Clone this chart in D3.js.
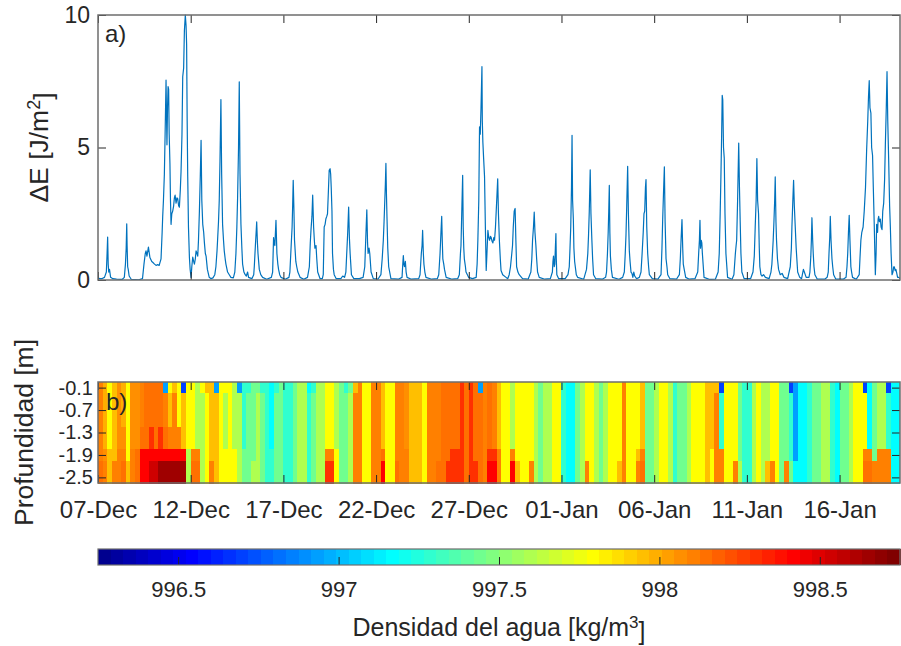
<!DOCTYPE html>
<html>
<head>
<meta charset="utf-8">
<script src="https://cdn.jsdelivr.net/npm/d3@7"></script>
<style>
  body { margin: 0; background: #fff; }
  text { font-family: "Liberation Sans", Arial, Helvetica, sans-serif; fill: #262626; }
</style>
</head>
<body>
<div id="chart"></div>
<script>
// ---- data (days counted from 07-Dec 00:00) ----
const tickDays = [0, 5, 10, 15, 20, 25, 30, 35, 40];
const tickLabels = ["07-Dec", "12-Dec", "17-Dec", "22-Dec", "27-Dec", "01-Jan", "06-Jan", "11-Jan", "16-Jan"];
const energyTicks = [0, 5, 10];
const depthTicks = [-0.1, -0.7, -1.3, -1.9, -2.5];
const densTicks = [996.5, 997, 997.5, 998, 998.5];

// ΔE [J/m2]: [day, value]
const energia = [
  [0,0.15],[0.05,0.05],[0.2,0.05],[0.35,0.1],[0.45,0.3],[0.49,1.0],[0.52,1.62],[0.55,0.6],[0.58,0.3],[0.62,0.4],[0.68,0.1],[0.8,0.05],[1.0,0.03],
  [1.3,0.02],[1.42,0.1],[1.48,0.6],[1.52,1.2],[1.55,2.12],[1.57,1.3],[1.6,0.5],[1.63,0.4],[1.68,0.15],[1.8,0.02],[2.2,0.01],
  [2.4,0.05],[2.48,0.6],[2.55,1.0],[2.59,1.1],[2.64,0.9],[2.72,1.24],[2.8,0.85],[2.9,0.7],[2.95,0.67],[3.05,0.6],[3.13,0.55],[3.22,0.58],[3.3,0.55],
  [3.4,0.8],[3.46,1.8],[3.49,2.4],[3.53,3.0],[3.58,4.0],[3.62,5.5],[3.67,7.54],[3.7,6.0],[3.72,5.1],[3.75,6.5],[3.78,7.3],[3.81,7.2],[3.84,5.5],[3.88,4.4],[3.91,3.0],[3.94,2.1],
  [3.98,2.5],[4.03,2.6],[4.08,2.8],[4.12,3.1],[4.16,3.2],[4.21,2.9],[4.26,3.1],[4.3,3.07],[4.35,2.8],[4.39,2.75],[4.44,3.4],[4.48,4.1],[4.53,5.5],[4.57,7.67],[4.62,8.0],[4.66,9.4],[4.71,10],
  [4.75,9.6],[4.78,8.9],[4.81,6.0],[4.84,3.9],[4.88,2.0],[4.93,0.86],[4.97,0.4],[5.02,0.1],[5.06,0.5],[5.11,0.86],[5.16,0.7],[5.2,0.6],[5.25,0.8],[5.29,1.1],[5.34,1.0],[5.38,0.9],
  [5.42,1.5],[5.47,2.6],[5.52,4.0],[5.56,5.27],[5.6,3.0],[5.65,2.1],[5.7,1.8],[5.74,1.4],[5.79,1.0],[5.83,0.9],[5.9,0.4],[6.0,0.1],[6.1,0.05],[6.2,0.08],
  [6.3,0.2],[6.36,0.5],[6.42,1.1],[6.45,1.5],[6.5,2.2],[6.54,3.0],[6.58,4.5],[6.63,6.81],[6.67,4.0],[6.72,2.1],[6.77,1.5],[6.81,1.1],[6.86,0.8],[6.9,0.6],[6.99,0.3],[7.08,0.2],[7.17,0.1],
  [7.3,0.08],[7.38,0.3],[7.44,1.0],[7.49,2.0],[7.53,3.1],[7.58,5.0],[7.62,7.48],[7.66,4.0],[7.71,2.1],[7.76,1.2],[7.8,0.6],[7.87,0.3],[7.94,0.2],[8.0,0.15],[8.07,0.3],[8.12,0.1],
  [8.3,0.05],[8.4,0.2],[8.43,0.5],[8.49,1.3],[8.53,1.8],[8.56,2.19],[8.6,1.4],[8.63,1.0],[8.7,0.4],[8.78,0.2],[8.88,0.1],[9.1,0.03],
  [9.35,0.1],[9.42,0.3],[9.47,1.6],[9.5,1.4],[9.54,1.3],[9.6,2.25],[9.65,1.0],[9.7,0.6],[9.74,0.4],[9.8,0.2],[9.87,0.1],[10.1,0.03],
  [10.3,0.1],[10.35,0.3],[10.42,1.3],[10.47,2.0],[10.5,2.8],[10.53,3.76],[10.57,2.6],[10.6,1.5],[10.67,0.7],[10.72,0.5],[10.78,0.3],[10.9,0.1],[11.1,0.03],
  [11.3,0.1],[11.4,0.5],[11.45,1.4],[11.49,1.9],[11.54,2.4],[11.58,3.2],[11.63,2.0],[11.67,1.5],[11.7,1.2],[11.76,1.3],[11.8,0.8],[11.85,0.3],[11.98,0.05],
  [12.1,0.05],[12.15,0.2],[12.2,2.0],[12.25,2.1],[12.29,2.3],[12.34,2.4],[12.38,2.5],[12.43,3.4],[12.47,4.14],[12.52,4.2],[12.55,4.0],[12.58,3.5],[12.62,2.6],[12.65,1.0],[12.7,0.4],[12.74,0.2],[12.85,0.05],
  [13.1,0.05],[13.2,0.15],[13.3,0.1],[13.37,0.3],[13.43,1.2],[13.47,1.8],[13.52,2.75],[13.56,1.6],[13.6,1.0],[13.67,0.2],[13.8,0.05],
  [14.1,0.05],[14.3,0.1],[14.39,0.5],[14.44,1.5],[14.5,2.65],[14.54,1.4],[14.57,1.0],[14.62,1.2],[14.66,1.0],[14.73,0.3],[14.85,0.05],
  [15.1,0.03],[15.26,0.2],[15.33,0.8],[15.39,1.5],[15.43,2.2],[15.46,2.8],[15.5,3.6],[15.53,4.4],[15.56,3.2],[15.59,2.3],[15.63,1.2],[15.68,0.5],[15.8,0.05],
  [16.2,0.03],[16.4,0.1],[16.44,0.6],[16.47,0.92],[16.5,0.6],[16.53,0.5],[16.58,0.7],[16.62,0.3],[16.67,0.1],[16.9,0.03],
  [17.3,0.05],[17.37,0.2],[17.44,1.0],[17.48,1.3],[17.51,1.87],[17.55,1.0],[17.58,0.6],[17.63,0.3],[17.69,0.1],[18.0,0.03],
  [18.3,0.05],[18.38,0.2],[18.45,1.0],[18.5,1.8],[18.54,2.4],[18.57,1.5],[18.6,0.8],[18.65,0.6],[18.69,0.4],[18.78,0.1],[19.1,0.03],
  [19.4,0.05],[19.49,0.2],[19.55,1.0],[19.58,1.3],[19.62,2.5],[19.67,3.95],[19.7,2.0],[19.73,1.2],[19.76,0.8],[19.82,0.5],[19.85,0.3],[19.99,0.1],
  [20.2,0.05],[20.4,0.1],[20.45,0.6],[20.49,1.5],[20.54,3.0],[20.58,5.78],[20.62,5.5],[20.66,6.5],[20.71,8.05],[20.73,6.0],[20.76,5.2],[20.8,4.6],[20.85,3.9],[20.9,1.8],[20.94,0.36],
  [20.98,1.0],[21.03,1.87],[21.08,1.6],[21.12,1.5],[21.17,1.65],[21.21,1.6],[21.26,1.45],[21.3,1.4],[21.35,1.6],[21.39,1.5],[21.44,2.0],[21.48,2.6],[21.52,3.2],[21.56,3.82],[21.6,2.5],[21.65,1.5],[21.7,0.8],[21.74,0.36],[21.83,0.2],[22.01,0.1],
  [22.1,0.05],[22.18,0.2],[22.25,0.5],[22.32,1.0],[22.36,1.3],[22.4,2.0],[22.45,2.6],[22.5,2.7],[22.54,1.5],[22.58,0.5],[22.65,0.3],[22.72,0.2],[22.9,0.05],
  [23.2,0.03],[23.35,0.3],[23.4,0.8],[23.44,1.5],[23.49,2.0],[23.53,2.56],[23.57,1.8],[23.62,1.3],[23.66,0.8],[23.71,0.3],[23.8,0.1],
  [24.1,0.03],[24.4,0.05],[24.51,0.3],[24.54,0.7],[24.57,0.9],[24.61,0.5],[24.64,0.6],[24.67,1.2],[24.7,1.75],[24.72,0.8],[24.75,0.2],[24.85,0.05],
  [25.2,0.05],[25.35,0.2],[25.42,0.5],[25.46,1.2],[25.5,2.0],[25.54,3.5],[25.57,5.46],[25.6,3.0],[25.64,2.3],[25.67,1.2],[25.71,0.7],[25.8,0.2],[25.87,0.1],
  [26.2,0.03],[26.35,0.4],[26.42,1.0],[26.46,1.7],[26.5,2.6],[26.55,4.16],[26.59,2.5],[26.64,1.5],[26.68,0.8],[26.73,0.2],[26.85,0.05],
  [27.2,0.03],[27.38,0.1],[27.43,0.3],[27.48,1.0],[27.52,1.8],[27.55,2.6],[27.58,3.57],[27.61,1.8],[27.64,0.9],[27.69,0.4],[27.75,0.1],
  [28.1,0.03],[28.3,0.1],[28.39,0.3],[28.44,1.0],[28.48,1.7],[28.52,2.8],[28.57,4.29],[28.61,2.5],[28.66,1.1],[28.7,0.7],[28.75,0.3],[28.8,0.25],[28.85,0.1],[28.9,0.3],[28.95,0.15],[29.05,0.05],
  [29.2,0.1],[29.29,0.3],[29.35,1.0],[29.41,1.8],[29.45,2.5],[29.49,2.6],[29.53,3.5],[29.56,3.79],[29.6,2.0],[29.65,1.0],[29.7,0.5],[29.74,0.2],[29.9,0.05],
  [30.2,0.03],[30.37,0.2],[30.42,1.2],[30.46,2.3],[30.5,3.2],[30.55,4.27],[30.59,2.2],[30.64,0.8],[30.69,0.5],[30.73,0.2],[30.85,0.05],
  [31.2,0.03],[31.36,0.2],[31.41,0.8],[31.45,1.5],[31.5,2.28],[31.54,1.2],[31.57,0.6],[31.62,0.4],[31.7,0.1],[31.9,0.03],
  [32.2,0.05],[32.35,0.3],[32.4,1.0],[32.44,1.5],[32.47,2.25],[32.5,1.2],[32.54,1.5],[32.57,1.4],[32.6,1.0],[32.69,0.1],[33.0,0.02],
  [33.3,0.03],[33.45,0.3],[33.51,1.0],[33.56,2.5],[33.6,3.9],[33.64,5.5],[33.67,6.97],[33.7,6.8],[33.74,5.0],[33.78,4.6],[33.82,2.5],[33.87,1.0],[33.96,0.1],
  [34.2,0.03],[34.3,0.2],[34.38,1.0],[34.42,1.3],[34.45,1.5],[34.5,3.0],[34.56,5.17],[34.6,3.5],[34.64,2.2],[34.68,1.0],[34.73,0.3],[34.85,0.05],
  [35.2,0.05],[35.33,0.3],[35.4,0.9],[35.45,2.0],[35.5,3.0],[35.54,4.58],[35.58,3.0],[35.63,2.5],[35.67,1.2],[35.7,0.5],[35.76,0.2],[35.82,0.15],[35.9,0.2],[36.0,0.1],
  [36.2,0.05],[36.3,0.3],[36.35,0.6],[36.42,1.5],[36.46,2.2],[36.5,3.0],[36.53,3.89],[36.57,2.2],[36.6,1.5],[36.65,0.8],[36.71,0.4],[36.8,0.2],[36.9,0.25],[37.0,0.1],
  [37.2,0.05],[37.34,0.5],[37.4,1.2],[37.43,2.0],[37.48,3.0],[37.52,3.76],[37.56,2.8],[37.61,2.0],[37.66,1.2],[37.74,0.3],[37.85,0.1],[37.95,0.05],[38.02,0.3],[38.05,0.4],[38.1,0.3],[38.2,0.1],
  [38.35,0.1],[38.4,0.3],[38.45,0.9],[38.48,1.5],[38.51,2.35],[38.55,1.5],[38.58,1.0],[38.62,0.5],[38.67,0.2],[38.8,0.03],
  [39.2,0.03],[39.33,0.1],[39.39,0.3],[39.43,1.0],[39.47,1.6],[39.5,2.4],[39.54,1.5],[39.59,0.8],[39.63,0.5],[39.68,0.2],[39.8,0.03],
  [40.2,0.03],[40.35,0.1],[40.4,0.5],[40.44,1.0],[40.48,1.8],[40.52,2.44],[40.56,1.5],[40.61,0.5],[40.65,0.3],[40.7,0.1],[40.9,0.03],
  [41.06,0.2],[41.1,0.8],[41.15,1.5],[41.2,1.8],[41.27,2.0],[41.33,2.6],[41.4,3.5],[41.46,4.9],[41.52,6.0],[41.56,6.9],[41.6,7.52],[41.64,6.5],[41.69,6.3],[41.73,5.0],[41.78,4.7],[41.82,3.5],[41.87,2.1],[41.93,0.2],
  [41.97,1.0],[42.0,2.1],[42.05,1.8],[42.08,2.3],[42.11,2.4],[42.15,2.2],[42.2,2.3],[42.24,2.0],[42.29,1.9],[42.33,2.6],[42.38,2.9],[42.43,3.8],[42.47,5.1],[42.52,6.5],[42.56,7.86],
  [42.6,6.0],[42.65,4.5],[42.7,2.8],[42.74,2.0],[42.78,1.0],[42.83,0.2],[42.88,0.3],[42.92,0.5],[42.95,0.5],[43.0,0.35],[43.04,0.4],[43.1,0.2],[43.13,0.1],[43.2,0.1],[43.26,0.05]
];

// density [kg/m3], one value per 6 h, from 07-Dec 00:00 (4 per day)
const depths = [-0.1, -0.4, -0.7, -1.0, -1.3, -1.6, -1.9, -2.2, -2.5];
const densTop = [
  998.1,998.0,997.8,997.95, 998.05,998.0,997.8,998.05, 998.05,998.1,998.15,998.15, 998.15,998.15,996.95,997.8,
  997.95,997.8,996.7,997.8, 997.8,997.6,997.8,997.95, 997.95,996.95,997.8,997.8, 997.8,997.6,996.95,997.3,
  997.3,997.45,997.45,997.3, 997.3,997.15,997.3,997.45, 997.3,997.3,997.45,997.6, 997.6,997.15,997.3,997.6,
  997.6,997.8,997.8,997.6, 997.45,997.3,997.45,997.95, 998.1,997.8,997.8,998.1, 998.1,997.95,997.8,997.8,
  998.1,998.1,998.05,997.95, 997.95,997.95,997.8,998.1, 998.1,998.1,998.15,998.15, 998.15,998.15,998.3,998.15,
  998.3,998.15,996.95,998.1, 998.15,998.1,997.95,997.8, 997.8,997.6,997.8,997.8, 997.8,997.8,997.6,997.45,
  997.6,997.6,997.8,997.8, 997.3,997.15,997.15,997.45, 997.6,997.8,997.8,997.6, 997.45,997.6,997.8,997.8,
  997.8,998.1,997.8,997.8, 997.8,997.95,997.45,997.45, 997.6,997.8,997.8,997.6, 997.3,997.45,997.45,997.6,
  997.8,997.8,997.8,997.95, 997.95,997.95,996.7,997.8, 997.8,997.8,997.45,997.3, 997.3,997.6,997.8,997.6,
  997.6,997.8,997.8,997.45, 997.45,996.7,996.95,997.15, 997.15,997.3,997.45,997.45, 997.6,997.6,997.3,997.15,
  997.45,997.45,997.6,997.8, 997.8,996.7,997.15,997.45, 997.6,997.6,996.7,997.15, 997.15
];
const densUpper = [
  998.1,998.0,997.8,997.95, 998.05,998.0,997.8,998.05, 998.05,998.1,998.15,998.15, 998.15,998.15,998.1,997.95,
  998.1,997.8,997.95,997.8, 997.8,997.6,997.6,997.8, 997.95,997.95,997.8,997.6, 997.8,997.6,997.6,997.3,
  997.45,997.45,997.6,997.45, 997.3,997.15,997.45,997.45, 997.3,997.3,997.45,997.6, 997.6,997.3,997.45,997.6,
  997.6,997.8,997.8,997.6, 997.45,997.45,997.6,998.1, 998.1,997.8,997.8,998.1, 998.1,997.95,997.8,997.8,
  998.1,998.1,998.05,997.95, 997.95,997.95,997.8,998.1, 998.1,998.1,998.15,998.15, 998.15,998.15,998.3,998.15,
  998.3,998.15,998.15,998.1, 998.15,998.1,997.95,997.8, 997.8,997.6,997.8,997.8, 997.8,997.8,997.6,997.45,
  997.6,997.6,997.8,997.8, 997.3,997.15,997.15,997.45, 997.6,997.8,997.8,997.6, 997.45,997.6,997.8,997.8,
  997.8,998.1,997.8,997.8, 997.8,997.95,997.45,997.45, 997.6,997.8,997.8,997.6, 997.3,997.45,997.45,997.6,
  997.8,997.8,997.8,997.95, 997.95,998.1,997.3,997.8, 997.8,997.8,997.45,997.3, 997.3,997.6,997.8,997.6,
  997.6,997.8,997.8,997.45, 997.45,997.3,996.95,997.15, 997.15,997.3,997.45,997.45, 997.6,997.6,997.3,997.15,
  997.45,997.45,997.6,997.8, 997.8,997.8,997.15,997.45, 997.6,997.6,997.3,997.15, 997.15
];
const densMid = [
  998.1,998.0,997.8,997.95, 998.05,998.05,997.8,998.05, 998.05,998.15,998.15,998.3, 998.15,998.3,998.15,998.1,
  998.1,998.1,997.95,997.8, 997.8,997.6,997.6,997.8, 997.95,997.95,997.8,997.6, 997.8,997.6,997.6,997.3,
  997.45,997.45,997.6,997.45, 997.3,997.15,997.45,997.45, 997.3,997.3,997.45,997.6, 997.6,997.3,997.45,997.6,
  997.6,997.8,997.8,997.6, 997.45,997.45,997.6,998.1, 998.1,997.8,997.8,998.1, 998.1,997.95,997.8,997.8,
  998.1,998.1,998.05,997.95, 997.95,997.95,997.8,998.1, 998.1,998.1,998.15,998.15, 998.15,998.15,998.3,998.15,
  998.3,998.15,998.15,998.1, 998.15,998.1,997.95,997.8, 997.8,997.6,997.8,997.8, 997.8,997.8,997.6,997.45,
  997.6,997.6,997.8,997.8, 997.3,997.15,997.15,997.45, 997.6,997.8,997.8,997.6, 997.45,997.6,997.8,997.8,
  997.8,998.1,997.8,997.8, 997.8,997.95,997.45,997.45, 997.6,997.8,997.8,997.6, 997.3,997.45,997.45,997.6,
  997.8,997.8,997.8,997.95, 997.95,998.1,997.3,997.8, 997.8,997.8,997.45,997.3, 997.3,997.6,997.8,997.6,
  997.6,997.8,997.8,997.45, 997.45,997.3,996.95,997.15, 997.15,997.3,997.45,997.45, 997.6,997.6,997.3,997.15,
  997.45,997.45,997.6,997.8, 997.8,997.8,997.15,997.45, 997.6,997.6,997.3,997.15, 997.15
];
const densLower = [
  998.1,998.05,997.95,997.95, 998.1,998.1,997.8,998.1, 998.15,998.4,998.4,998.4, 998.4,998.4,998.4,998.4,
  998.4,998.4,998.4,997.6, 998.1,998.1,997.6,997.8, 997.95,997.95,997.8,997.8, 997.8,997.8,997.6,997.45,
  997.45,997.45,997.6,997.45, 997.3,997.3,997.45,997.45, 997.3,997.3,997.45,997.6, 997.6,997.3,997.45,997.6,
  997.6,998.1,998.1,997.8, 997.45,997.45,997.6,998.1, 998.1,997.8,997.8,998.1, 998.1,998.15,997.8,997.8,
  998.1,998.1,998.1,997.95, 997.95,997.95,997.8,998.1, 998.1,998.1,998.15,998.15, 998.3,998.3,998.3,998.15,
  998.3,998.15,998.15,998.1, 998.3,998.3,998.1,997.8, 997.8,998.1,997.8,997.8, 997.8,997.8,997.6,997.45,
  997.6,997.6,997.8,997.8, 997.3,997.15,997.15,997.45, 997.6,997.8,997.8,997.6, 997.45,997.6,997.8,997.8,
  997.8,998.1,997.8,997.8, 997.95,998.1,997.45,997.45, 997.6,997.8,997.8,997.6, 997.3,997.45,997.45,997.6,
  997.8,997.8,997.8,997.95, 997.8,998.1,998.1,997.8, 997.8,997.8,997.45,997.3, 997.3,997.6,997.8,997.6,
  997.6,997.8,997.8,997.45, 997.45,997.3,996.95,997.15, 997.15,997.3,997.45,997.45, 997.6,997.6,997.3,997.15,
  997.45,997.45,997.6,997.8, 997.8,998.1,998.1,997.45, 998.1,998.1,998.1,997.15, 997.15
];
const densBottom = [
  998.15,998.1,997.95,998.1, 998.1,998.15,997.95,998.1, 998.15,998.4,998.4,998.55, 998.55,998.65,998.65,998.65,
  998.65,998.65,998.65,997.6, 998.15,998.15,997.6,997.8, 998.1,997.95,997.8,997.8, 997.8,997.8,997.6,997.45,
  997.45,997.6,997.6,997.45, 997.3,997.3,997.45,997.45, 997.3,997.3,997.45,997.6, 997.6,997.3,997.45,997.6,
  997.6,998.3,998.3,997.8, 997.45,997.45,997.6,998.1, 998.1,997.8,997.8,998.1, 998.1,998.4,997.8,997.8,
  998.15,998.1,998.1,997.95, 997.95,997.95,997.8,998.1, 998.1,998.15,998.15,998.3, 998.3,998.3,998.3,998.15,
  998.3,998.3,998.15,998.1, 998.4,998.4,998.1,997.8, 997.8,998.4,997.95,997.8, 997.8,998.1,997.6,997.45,
  997.6,997.6,997.8,997.8, 997.3,997.15,997.15,997.45, 997.6,998.1,997.8,997.6, 997.45,997.6,997.8,997.8,
  997.95,998.1,997.8,997.8, 998.1,998.15,997.45,997.45, 997.6,997.8,997.8,997.6, 997.3,997.45,997.45,997.6,
  997.8,997.8,997.8,997.95, 997.8,998.1,998.1,997.8, 997.8,998.1,997.6,997.3, 997.3,997.6,997.8,997.6,
  997.95,998.1,997.8,997.45, 998.1,997.45,997.15,997.15, 997.15,997.3,997.45,997.45, 997.6,997.6,997.3,997.15,
  997.45,997.45,997.6,997.8, 997.8,998.15,998.15,998.1, 998.1,998.1,998.1,997.15, 997.15
];
const densByDepth = [densTop, densUpper, densUpper, densUpper, densMid, densMid, densLower, densBottom, densBottom];

// ---- layout ----
const W = 901, H = 646;
const pa = { left: 98, right: 900, top: 15, bottom: 280 };
const pb = { left: 98, right: 900, top: 382, bottom: 483 };
const cb = { left: 98, right: 900, top: 549, bottom: 565 };
const xEnd = 43.26, cellDays = 0.25, cellDepth = 0.3;
const cmin = 996.25, cmax = 998.75, nColors = 64;
const axisColor = "#262626";
const boxColor = "#6e6e6e";

const t0 = Date.UTC(2016, 11, 7);
const asDate = d => new Date(t0 + d * 864e5);

const x = d3.scaleUtc().domain([asDate(0), asDate(xEnd)]).range([pa.left, pa.right]);
const yE = d3.scaleLinear().domain([0, 10]).range([pa.bottom, pa.top]);
const yD = d3.scaleLinear().domain([0.05, -2.65]).range([pb.top, pb.bottom]);
const xC = d3.scaleLinear().domain([cmin, cmax]).range([cb.left, cb.right]);

// MATLAB jet(64)
function jet(i) {
  const k = i + 1;
  const u = j => j <= 16 ? j / 16 : (j <= 31 ? 1 : (48 - j) / 16);
  const r = k >= 25 ? u(k - 24) : 0;
  const g = (k >= 9 && k <= 55) ? u(k - 8) : 0;
  const b = k <= 39 ? u(k + 8) : 0;
  return d3.rgb(r * 255, g * 255, b * 255).formatHex();
}
const colorOf = v => {
  const i = Math.max(0, Math.min(nColors - 1, Math.floor((v - cmin) / (cmax - cmin) * nColors)));
  return jet(i);
};

const svg = d3.select("#chart").append("svg")
    .attr("width", W)
    .attr("height", H);

const tickDates = tickDays.map(asDate);
const labelOf = d => tickLabels[tickDays.indexOf(Math.round((d - t0) / 864e5))];

function styleAxis(g, size) {
  g.select(".domain").remove();
  g.selectAll(".tick line").attr("stroke", axisColor).attr("stroke-width", 1);
  g.selectAll(".tick text").attr("fill", axisColor)
      .style("font-size", size + "px")
      .style("font-family", '"Liberation Sans", Arial, sans-serif');
}

// ---- panel a) ----
svg.append("defs").append("clipPath").attr("id", "clipA")
  .append("rect").attr("x", pa.left).attr("y", pa.top - 1)
  .attr("width", pa.right - pa.left).attr("height", pa.bottom - pa.top + 1);

const line = d3.line()
    .x(d => x(asDate(d[0])))
    .y(d => yE(d[1]));

svg.append("path")
    .datum(energia)
    .attr("clip-path", "url(#clipA)")
    .attr("fill", "none")
    .attr("stroke", "#0072BD")
    .attr("stroke-width", 1.2)
    .attr("stroke-linejoin", "round")
    .attr("d", line);

svg.append("g").attr("transform", `translate(0,${pa.bottom})`)
    .call(d3.axisBottom(x).tickValues(tickDates).tickSize(-8).tickFormat(""))
    .call(g => styleAxis(g, 24));
svg.append("g").attr("transform", `translate(0,${pa.top})`)
    .call(d3.axisTop(x).tickValues(tickDates).tickSize(-8).tickFormat(""))
    .call(g => styleAxis(g, 24));
svg.append("g").attr("transform", `translate(${pa.left},0)`)
    .call(d3.axisLeft(yE).tickValues(energyTicks).tickSize(-8).tickPadding(8).tickFormat(d => String(d)))
    .call(g => styleAxis(g, 23));
svg.append("g").attr("transform", `translate(${pa.right},0)`)
    .call(d3.axisRight(yE).tickValues(energyTicks).tickSize(-8).tickFormat(""))
    .call(g => styleAxis(g, 24));

svg.append("rect")
    .attr("x", pa.left).attr("y", pa.top)
    .attr("width", pa.right - pa.left).attr("height", pa.bottom - pa.top)
    .attr("fill", "none").attr("stroke", boxColor).attr("stroke-width", 1.5);

svg.append("text")
    .attr("x", 105).attr("y", 42)
    .style("font-size", "24px")
    .text("a)");

const yLabA = svg.append("text")
    .attr("transform", `translate(48,${(pa.top + pa.bottom) / 2}) rotate(-90)`)
    .attr("text-anchor", "middle")
    .style("font-size", "26.5px");
yLabA.append("tspan").text("\u0394E [J/m");
yLabA.append("tspan").attr("dy", "-0.45em").style("font-size", "18px").text("2");
yLabA.append("tspan").attr("dy", "0.45em").text("]");

// ---- panel b) ----
const cells = [];
densByDepth.forEach((row, j) => {
  row.forEach((v, k) => cells.push({ depth: depths[j], k, v }));
});

svg.append("g")
    .attr("shape-rendering", "crispEdges")
  .selectAll("rect")
  .data(cells)
  .join("rect")
    .attr("x", d => x(asDate(d.k * cellDays)))
    .attr("width", d => x(asDate(Math.min((d.k + 1) * cellDays, xEnd))) - x(asDate(d.k * cellDays)) + 0.6)
    .attr("y", d => yD(d.depth + cellDepth / 2))
    .attr("height", d => yD(d.depth - cellDepth / 2) - yD(d.depth + cellDepth / 2) + 0.6)
    .attr("fill", d => colorOf(d.v));

svg.append("g").attr("transform", `translate(0,${pb.bottom})`)
    .call(d3.axisBottom(x).tickValues(tickDates).tickSize(-8).tickPadding(18).tickFormat(labelOf))
    .call(g => styleAxis(g, 24));
svg.append("g").attr("transform", `translate(0,${pb.top})`)
    .call(d3.axisTop(x).tickValues(tickDates).tickSize(-8).tickFormat(""))
    .call(g => styleAxis(g, 24));
svg.append("g").attr("transform", `translate(${pb.left},0)`)
    .call(d3.axisLeft(yD).tickValues(depthTicks).tickSize(-8).tickPadding(5).tickFormat(d => d.toFixed(1)))
    .call(g => styleAxis(g, 20));
svg.append("g").attr("transform", `translate(${pb.right},0)`)
    .call(d3.axisRight(yD).tickValues(depthTicks).tickSize(-8).tickFormat(""))
    .call(g => styleAxis(g, 20));

svg.append("rect")
    .attr("x", pb.left).attr("y", pb.top)
    .attr("width", pb.right - pb.left).attr("height", pb.bottom - pb.top)
    .attr("fill", "none").attr("stroke", boxColor).attr("stroke-width", 1.5);

svg.append("text")
    .attr("x", 106).attr("y", 410)
    .style("font-size", "24px")
    .text("b)");

svg.append("text")
    .attr("transform", `translate(33,${(pb.top + pb.bottom) / 2}) rotate(-90)`)
    .attr("text-anchor", "middle")
    .style("font-size", "26.5px")
    .text("Profundidad [m]");

// ---- colorbar ----
const step = (cmax - cmin) / nColors;
svg.append("g")
    .attr("shape-rendering", "crispEdges")
  .selectAll("rect")
  .data(d3.range(nColors))
  .join("rect")
    .attr("x", i => xC(cmin + i * step))
    .attr("width", i => xC(cmin + (i + 1) * step) - xC(cmin + i * step) + 0.5)
    .attr("y", cb.top)
    .attr("height", cb.bottom - cb.top)
    .attr("fill", i => jet(i));

svg.append("g").attr("transform", `translate(0,${cb.bottom})`)
    .call(d3.axisBottom(xC).tickValues(densTicks).tickSize(-8).tickPadding(16).tickFormat(d => String(d)))
    .call(g => styleAxis(g, 22));

svg.append("rect")
    .attr("x", cb.left).attr("y", cb.top)
    .attr("width", cb.right - cb.left).attr("height", cb.bottom - cb.top)
    .attr("fill", "none").attr("stroke", boxColor).attr("stroke-width", 1.2);

const cLab = svg.append("text")
    .attr("x", (cb.left + cb.right) / 2).attr("y", 636)
    .attr("text-anchor", "middle")
    .style("font-size", "25px");
cLab.append("tspan").text("Densidad del agua [kg/m");
cLab.append("tspan").attr("dy", "-0.45em").style("font-size", "17px").text("3");
cLab.append("tspan").attr("dy", "0.45em").text("]");
</script>
</body>
</html>
